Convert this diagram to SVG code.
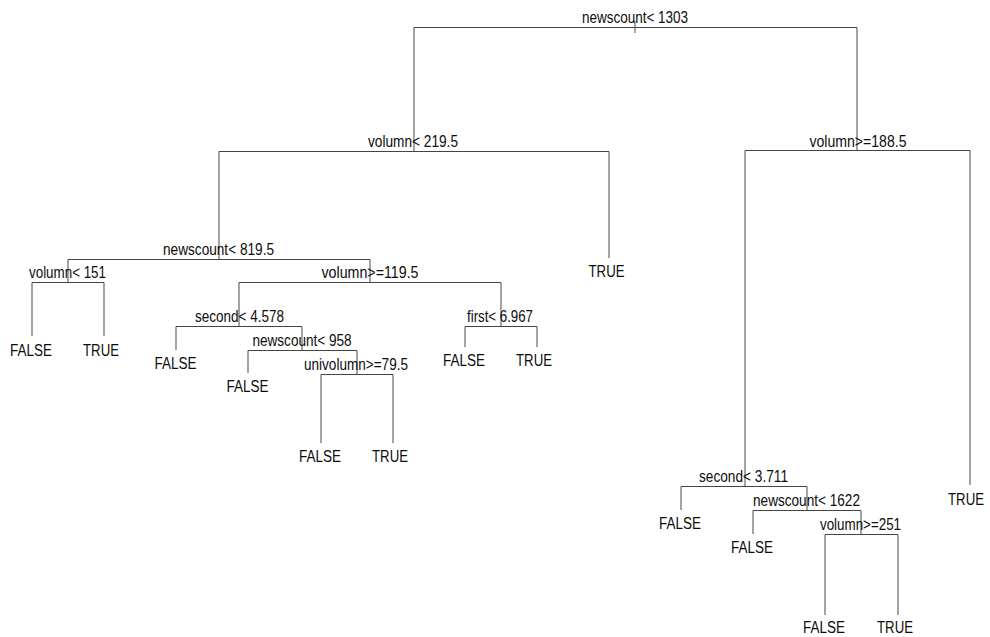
<svg xmlns="http://www.w3.org/2000/svg" width="990" height="637" viewBox="0 0 990 637">
  <style>
    .bg { fill: #ffffff; }
    .edge { fill: none; stroke: #444444; stroke-width: 1; }
    .vert { fill: none; stroke: #5a5a5a; stroke-width: 1.1; }
    text { font-family: "Liberation Sans", Arial, sans-serif; font-size: 16px; fill: #0d0d0d; text-anchor: middle; }
  </style>
  <rect class="bg" x="0" y="0" width="990" height="637"/>

  <!-- connectors: horizontal split bars and vertical drops -->
  <g id="connectors">
    <!-- root -->
    <path class="vert" d="M635 21 V33"/>
    <path class="edge" d="M414 27.5 H857"/>
    <path class="vert" d="M414 27.5 V151 M857 27.5 V151"/>
    <!-- volumn< 219.5 -->
    <path class="edge" d="M219 151.5 H609"/>
    <path class="vert" d="M219 151.5 V259 M609 151.5 V258"/>
    <!-- volumn>=188.5 -->
    <path class="edge" d="M745 150.5 H970"/>
    <path class="vert" d="M745 150.5 V486 M970 150.5 V485"/>
    <!-- newscount< 819.5 -->
    <path class="edge" d="M68 259.5 H370"/>
    <path class="vert" d="M68 259.5 V282 M370 259.5 V282"/>
    <!-- volumn< 151 -->
    <path class="edge" d="M32 282.5 H104"/>
    <path class="vert" d="M32 282.5 V336 M104 282.5 V336"/>
    <!-- volumn>=119.5 -->
    <path class="edge" d="M239 282.5 H501"/>
    <path class="vert" d="M239 282.5 V326 M501 282.5 V326"/>
    <!-- second< 4.578 -->
    <path class="edge" d="M176 326.5 H302"/>
    <path class="vert" d="M176 326.5 V350 M302 326.5 V350"/>
    <!-- newscount< 958 -->
    <path class="edge" d="M248 350.5 H357"/>
    <path class="vert" d="M248 350.5 V373 M357 350.5 V374"/>
    <!-- univolumn>=79.5 -->
    <path class="edge" d="M321 374.5 H393"/>
    <path class="vert" d="M321 374.5 V443 M393 374.5 V443"/>
    <!-- first< 6.967 -->
    <path class="edge" d="M465 326.5 H537"/>
    <path class="vert" d="M465 326.5 V347 M537 326.5 V347"/>
    <!-- second< 3.711 -->
    <path class="edge" d="M681 486.5 H807"/>
    <path class="vert" d="M681 486.5 V510 M807 486.5 V510"/>
    <!-- newscount< 1622 -->
    <path class="edge" d="M753 510.5 H861"/>
    <path class="vert" d="M753 510.5 V534 M861 510.5 V534"/>
    <!-- volumn>=251 -->
    <path class="edge" d="M825 534.5 H898"/>
    <path class="vert" d="M825 534.5 V615 M898 534.5 V615"/>
  </g>

  <!-- split nodes -->
  <g id="n1"><text x="635" y="23" textLength="106" lengthAdjust="spacingAndGlyphs">newscount&lt; 1303</text></g>
  <g id="n2"><text x="413" y="147" textLength="90" lengthAdjust="spacingAndGlyphs">volumn&lt; 219.5</text></g>
  <g id="n3"><text x="858" y="147" textLength="97" lengthAdjust="spacingAndGlyphs">volumn&gt;=188.5</text></g>
  <g id="n4"><text x="218.5" y="255" textLength="111" lengthAdjust="spacingAndGlyphs">newscount&lt; 819.5</text></g>
  <g id="n5"><text x="67.5" y="278" textLength="77" lengthAdjust="spacingAndGlyphs">volumn&lt; 151</text></g>
  <g id="n6"><text x="370" y="278" textLength="97" lengthAdjust="spacingAndGlyphs">volumn&gt;=119.5</text></g>
  <g id="n7"><text x="239.5" y="322" textLength="89" lengthAdjust="spacingAndGlyphs">second&lt; 4.578</text></g>
  <g id="n8"><text x="302" y="346" textLength="99" lengthAdjust="spacingAndGlyphs">newscount&lt; 958</text></g>
  <g id="n9"><text x="356" y="370" textLength="104" lengthAdjust="spacingAndGlyphs">univolumn&gt;=79.5</text></g>
  <g id="n10"><text x="500" y="322" textLength="66" lengthAdjust="spacingAndGlyphs">first&lt; 6.967</text></g>
  <g id="n11"><text x="743.5" y="482" textLength="89" lengthAdjust="spacingAndGlyphs">second&lt; 3.711</text></g>
  <g id="n12"><text x="806.5" y="506" textLength="107" lengthAdjust="spacingAndGlyphs">newscount&lt; 1622</text></g>
  <g id="n13"><text x="860.5" y="530" textLength="81" lengthAdjust="spacingAndGlyphs">volumn&gt;=251</text></g>

  <!-- leaves -->
  <g id="leaf1"><text x="31" y="356" textLength="42" lengthAdjust="spacingAndGlyphs">FALSE</text></g>
  <g id="leaf2"><text x="101" y="356" textLength="36" lengthAdjust="spacingAndGlyphs">TRUE</text></g>
  <g id="leaf3"><text x="175.5" y="369" textLength="42" lengthAdjust="spacingAndGlyphs">FALSE</text></g>
  <g id="leaf4"><text x="247.5" y="392" textLength="42" lengthAdjust="spacingAndGlyphs">FALSE</text></g>
  <g id="leaf5"><text x="320" y="462" textLength="42" lengthAdjust="spacingAndGlyphs">FALSE</text></g>
  <g id="leaf6"><text x="390" y="462" textLength="36" lengthAdjust="spacingAndGlyphs">TRUE</text></g>
  <g id="leaf7"><text x="464" y="366" textLength="42" lengthAdjust="spacingAndGlyphs">FALSE</text></g>
  <g id="leaf8"><text x="534" y="366" textLength="36" lengthAdjust="spacingAndGlyphs">TRUE</text></g>
  <g id="leaf9"><text x="606.5" y="277" textLength="36" lengthAdjust="spacingAndGlyphs">TRUE</text></g>
  <g id="leaf10"><text x="680" y="529" textLength="42" lengthAdjust="spacingAndGlyphs">FALSE</text></g>
  <g id="leaf11"><text x="752" y="553" textLength="42" lengthAdjust="spacingAndGlyphs">FALSE</text></g>
  <g id="leaf12"><text x="824" y="633" textLength="42" lengthAdjust="spacingAndGlyphs">FALSE</text></g>
  <g id="leaf13"><text x="895" y="633" textLength="36" lengthAdjust="spacingAndGlyphs">TRUE</text></g>
  <g id="leaf14"><text x="966" y="505" textLength="36" lengthAdjust="spacingAndGlyphs">TRUE</text></g>
</svg>
